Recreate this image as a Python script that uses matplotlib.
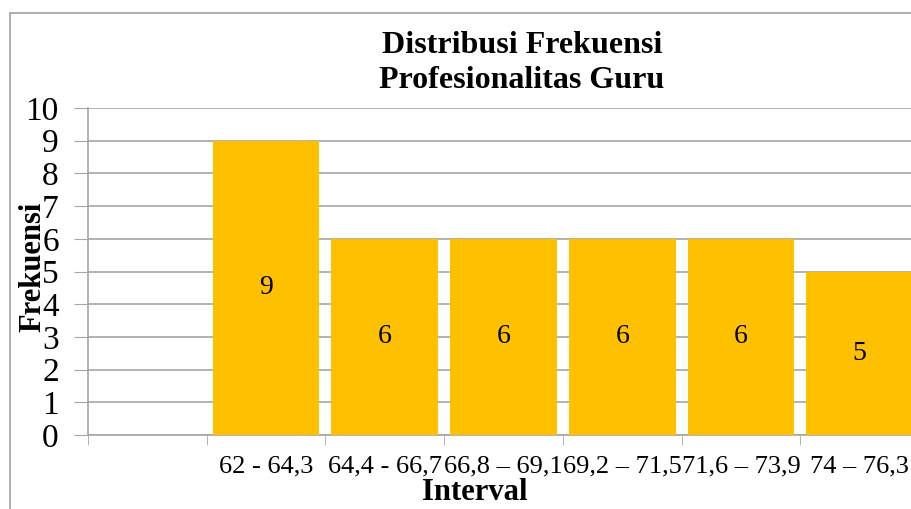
import matplotlib.pyplot as plt
import matplotlib
from matplotlib.patches import Rectangle

matplotlib.rcParams['font.family'] = ['Liberation Serif', 'DejaVu Serif']

# ========== 数据 ==========
categories = ['', '62 - 64,3', '64,4 - 66,7', '66,8 – 69,1', '69,2 – 71,5',
              '71,6 – 73,9', '74 – 76,3']
values = [0, 9, 6, 6, 6, 6, 5]
y_ticks = list(range(0, 11))

BAR_COLOR = '#FFC000'
GRID_COLOR = '#A6A6A6'

fig = plt.figure(figsize=(9.12, 5.09), dpi=100)
W, H = 912, 509

# chart frame (cut off on right / bottom like the original screenshot)
fig.patches.append(Rectangle((10 / W, -0.1), 1.2, (H - 13) / H + 0.1,
                             transform=fig.transFigure, fill=False,
                             edgecolor='#A0A0A0', linewidth=1.2))

ax = fig.add_axes([88 / W, 74 / H, 831 / W, 327 / H])

x = list(range(len(categories)))
bars = ax.bar(x[1:], values[1:], width=0.9, color=BAR_COLOR, zorder=3)

for bar, v in zip(bars, values[1:]):
    ax.text(bar.get_x() + bar.get_width() / 2, v / 2, str(v),
            ha='center', va='center', fontsize=20, zorder=4)

ax.set_xlim(-0.5, len(categories) - 0.5)
ax.set_ylim(0, 10)
ax.set_yticks(y_ticks)
ax.tick_params(axis='y', labelsize=24, length=10, color=GRID_COLOR, pad=11)

ax.set_xticks(x)
ax.set_xticklabels(categories, fontsize=19)
ax.tick_params(axis='x', which='major', length=0, pad=15)
ax.set_xticks([i - 0.5 for i in x] + [len(x) - 0.5], minor=True)
ax.tick_params(axis='x', which='minor', length=7, color=GRID_COLOR)

ax.grid(axis='y', color=GRID_COLOR, linewidth=1.2, zorder=0)
ax.set_axisbelow(True)
for s in ['top', 'right']:
    ax.spines[s].set_visible(False)
for s in ['left', 'bottom']:
    ax.spines[s].set_color(GRID_COLOR)
    ax.spines[s].set_linewidth(1.2)

fig.text(522 / W, 1 - 63 / H, 'Distribusi Frekuensi\nProfesionalitas Guru',
         ha='center', va='center', fontsize=23, fontweight='bold',
         linespacing=1.25)
fig.text(33 / W, 1 - 267 / H, 'Frekuensi', rotation=90, ha='center',
         va='center', fontsize=22, fontweight='bold')
fig.text(475 / W, 1 - 493 / H, 'Interval', ha='center', va='center',
         fontsize=22, fontweight='bold')

fig.savefig('out.png', dpi=100)
